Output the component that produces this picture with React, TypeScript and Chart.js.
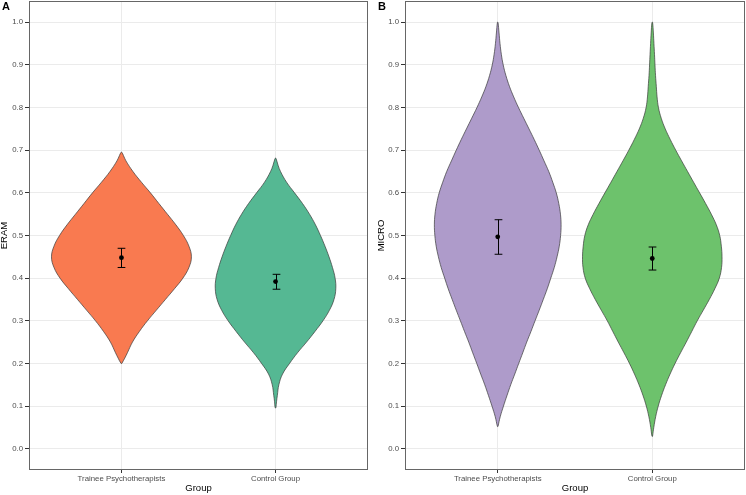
import React, { useEffect, useRef } from "react";
import { Chart, registerables } from "chart.js";

Chart.register(...registerables);

// ---------- data ----------
const groups = ["Trainee Psychotherapists", "Control Group"];
const yTicks = [0, 0.1, 0.2, 0.3, 0.4, 0.5, 0.6, 0.7, 0.8, 0.9, 1.0];

// Panel A — ERAM (relative violin half-width, 1 = widest)
const eramTraineeY = [0.2, 0.2125, 0.225, 0.25, 0.275, 0.3, 0.325, 0.35, 0.375, 0.4, 0.425, 0.45, 0.475, 0.5, 0.525, 0.55, 0.575, 0.6, 0.625, 0.65, 0.675, 0.6875, 0.695];
const eramTraineeDensity = [0.006, 0.048, 0.086, 0.159, 0.259, 0.375, 0.504, 0.634, 0.764, 0.886, 0.973, 1.009, 0.973, 0.893, 0.785, 0.663, 0.54, 0.418, 0.288, 0.166, 0.065, 0.029, 0.006];
const eramControlY = [0.096, 0.11, 0.125, 0.15, 0.175, 0.2, 0.225, 0.25, 0.275, 0.3, 0.325, 0.35, 0.375, 0.4, 0.425, 0.45, 0.475, 0.5, 0.525, 0.55, 0.575, 0.6, 0.625, 0.65, 0.665, 0.681];
const eramControlDensity = [0.006, 0.014, 0.026, 0.048, 0.101, 0.202, 0.317, 0.447, 0.569, 0.684, 0.778, 0.843, 0.869, 0.859, 0.821, 0.771, 0.713, 0.648, 0.576, 0.49, 0.389, 0.274, 0.159, 0.072, 0.036, 0.006];
const eramMean = [0.448, 0.392];
const eramLower = [0.425, 0.374];
const eramUpper = [0.47, 0.409];

// Panel B — MICRO
const microTraineeY = [0.052, 0.075, 0.1, 0.125, 0.15, 0.175, 0.2, 0.225, 0.25, 0.275, 0.3, 0.325, 0.35, 0.375, 0.4, 0.425, 0.45, 0.475, 0.5, 0.525, 0.55, 0.575, 0.6, 0.625, 0.65, 0.675, 0.7, 0.725, 0.75, 0.775, 0.8, 0.825, 0.85, 0.875, 0.9, 0.925, 0.95, 0.975, 1.0];
const microTraineeDensity = [0.004, 0.036, 0.083, 0.134, 0.187, 0.245, 0.302, 0.36, 0.417, 0.478, 0.537, 0.597, 0.655, 0.712, 0.763, 0.813, 0.853, 0.885, 0.904, 0.911, 0.902, 0.878, 0.842, 0.791, 0.734, 0.666, 0.597, 0.525, 0.45, 0.374, 0.299, 0.23, 0.168, 0.118, 0.079, 0.052, 0.033, 0.019, 0.004];
const microControlY = [0.029, 0.05, 0.075, 0.1, 0.125, 0.15, 0.175, 0.2, 0.225, 0.25, 0.275, 0.3, 0.325, 0.35, 0.375, 0.4, 0.425, 0.45, 0.475, 0.5, 0.525, 0.55, 0.575, 0.6, 0.625, 0.65, 0.675, 0.7, 0.725, 0.75, 0.775, 0.8, 0.825, 0.85, 0.875, 0.9, 0.925, 0.95, 0.975, 1.0];
const microControlDensity = [0.004, 0.022, 0.049, 0.086, 0.134, 0.191, 0.256, 0.328, 0.407, 0.489, 0.568, 0.647, 0.734, 0.82, 0.899, 0.964, 0.996, 1.003, 0.993, 0.97, 0.921, 0.849, 0.767, 0.681, 0.594, 0.508, 0.422, 0.338, 0.259, 0.187, 0.129, 0.089, 0.069, 0.058, 0.047, 0.039, 0.032, 0.024, 0.016, 0.004];
const microMean = [0.497, 0.446];
const microLower = [0.456, 0.419];
const microUpper = [0.537, 0.473];

const colorsA = ["#F97A50", "#55B893"];
const colorsB = ["#AE9BCA", "#6DC26C"];

// ---------- helpers ----------
const HALF_WIDTH = 0.45;

function violinPoints(center: number, ys: number[], dens: number[]) {
  const pts: { x: number; y: number }[] = [];
  for (let i = 0; i < ys.length; i++) pts.push({ x: center + dens[i] * HALF_WIDTH, y: ys[i] });
  for (let i = ys.length - 1; i >= 0; i--) pts.push({ x: center - dens[i] * HALF_WIDTH, y: ys[i] });
  pts.push({ x: center + dens[0] * HALF_WIDTH, y: ys[0] });
  return pts;
}

const FONT = "'Liberation Sans', Arial, Helvetica, sans-serif";

type Panel = {
  label: string;
  yTitle: string;
  violins: { y: number[]; d: number[] }[];
  colors: string[];
  mean: number[];
  lower: number[];
  upper: number[];
  padLeft: number;
  padRight: number;
  yWidth: number;
  labelX: number;
};

const panels: Panel[] = [
  {
    label: "A",
    yTitle: "ERAM",
    violins: [
      { y: eramTraineeY, d: eramTraineeDensity },
      { y: eramControlY, d: eramControlDensity },
    ],
    colors: colorsA,
    mean: eramMean,
    lower: eramLower,
    upper: eramUpper,
    padLeft: 0,
    padRight: 5,
    yWidth: 29,
    labelX: 2,
  },
  {
    label: "B",
    yTitle: "MICRO",
    violins: [
      { y: microTraineeY, d: microTraineeDensity },
      { y: microControlY, d: microControlDensity },
    ],
    colors: colorsB,
    mean: microMean,
    lower: microLower,
    upper: microUpper,
    padLeft: 4,
    padRight: 1,
    yWidth: 28,
    labelX: 5,
  },
];

function makeChart(canvas: HTMLCanvasElement, p: Panel) {
  const meanIndex = p.violins.length;
  const panelPlugin = {
    id: "panelDecor",
    beforeDatasetDraw(chart: any, args: any) {
      if (args.index !== meanIndex) return;
      const ctx = chart.ctx;
      const xs = chart.scales.x;
      const ys = chart.scales.y;
      ctx.save();
      ctx.strokeStyle = "#000";
      ctx.lineWidth = 1;
      for (let i = 0; i < p.mean.length; i++) {
        const cx = Math.round(xs.getPixelForValue(i + 1)) + 0.5;
        const yl = ys.getPixelForValue(p.lower[i]);
        const yu = ys.getPixelForValue(p.upper[i]);
        const cap = xs.getPixelForValue(i + 1 + 0.025) - xs.getPixelForValue(i + 1);
        ctx.beginPath();
        ctx.moveTo(cx, yl);
        ctx.lineTo(cx, yu);
        ctx.moveTo(cx - cap, yl);
        ctx.lineTo(cx + cap, yl);
        ctx.moveTo(cx - cap, yu);
        ctx.lineTo(cx + cap, yu);
        ctx.stroke();
      }
      ctx.restore();
    },
    afterDraw(chart: any) {
      const ctx = chart.ctx;
      const a = chart.chartArea;
      ctx.save();
      ctx.strokeStyle = "#666666";
      ctx.lineWidth = 1;
      ctx.strokeRect(Math.round(a.left) + 0.5, Math.round(a.top) + 0.5, Math.round(a.right - a.left) - 1, Math.round(a.bottom - a.top) - 1);
      ctx.fillStyle = "#000";
      ctx.font = `bold 11px ${FONT}`;
      ctx.textBaseline = "alphabetic";
      ctx.textAlign = "left";
      ctx.fillText(p.label, p.labelX, 10);
      ctx.restore();
    },
  };

  const datasets: any[] = p.violins.map((v, i) => ({
    type: "line",
    data: violinPoints(i + 1, v.y, v.d),
    fill: "shape",
    backgroundColor: p.colors[i],
    borderColor: "#3a3a3a",
    borderWidth: 0.7,
    pointRadius: 0,
    tension: 0.4,
    order: 2,
  }));
  datasets.push({
    type: "scatter",
    data: p.mean.map((m, i) => ({ x: i + 1, y: m })),
    backgroundColor: "#000",
    borderColor: "#000",
    borderWidth: 0,
    pointRadius: 2.4,
    order: 0,
  });

  return new Chart(canvas, {
    type: "scatter",
    data: { datasets },
    options: {
      animation: false,
      responsive: false,
      devicePixelRatio: 1,
      events: [],
      layout: { autoPadding: false, padding: { left: p.padLeft, right: p.padRight, top: 1, bottom: 0 } },
      plugins: { legend: { display: false }, tooltip: { enabled: false } },
      scales: {
        x: {
          type: "linear",
          min: 0.4,
          max: 2.6,
          afterBuildTicks: (s: any) => {
            s.ticks = groups.map((_, i) => ({ value: i + 1 }));
          },
          afterFit: (s: any) => {
            s.height = 25;
            s.paddingLeft = 0;
            s.paddingRight = 0;
          },
          ticks: {
            callback: (v: any) => groups[Math.round(Number(v)) - 1],
            autoSkip: false,
            maxRotation: 0,
            minRotation: 0,
            color: "#4d4d4d",
            font: { family: FONT, size: 7.8 },
            padding: 1,
          },
          grid: { color: "#ebebeb", lineWidth: 1, tickColor: "#333333", tickLength: 3, tickWidth: 1 },
          border: { display: false },
          title: {
            display: true,
            text: "Group",
            color: "#000",
            font: { family: FONT, size: 9.5 },
            padding: { top: 0, bottom: 1 },
          },
        },
        y: {
          type: "linear",
          min: -0.05,
          max: 1.05,
          afterBuildTicks: (s: any) => {
            s.ticks = yTicks.map((v) => ({ value: v }));
          },
          afterFit: (s: any) => {
            s.width = p.yWidth;
            s.paddingTop = 0;
            s.paddingBottom = 0;
          },
          ticks: {
            callback: (v: any) => Number(v).toFixed(1),
            color: "#4d4d4d",
            font: { family: FONT, size: 7.8 },
            padding: 2,
          },
          grid: { color: "#ebebeb", lineWidth: 1, tickColor: "#333333", tickLength: 4, tickWidth: 1 },
          border: { display: false },
          title: {
            display: true,
            text: p.yTitle,
            color: "#000",
            font: { family: FONT, size: 9.5, lineHeight: 0.9 },
            padding: { top: 0, bottom: 0 },
          },
        },
      },
    } as any,
    plugins: [panelPlugin],
  } as any);
}

export default function App() {
  const refA = useRef<HTMLCanvasElement>(null);
  const refB = useRef<HTMLCanvasElement>(null);

  useEffect(() => {
    document.body.style.margin = "0";
    const charts: Chart[] = [];
    if (refA.current) charts.push(makeChart(refA.current, panels[0]));
    if (refB.current) charts.push(makeChart(refB.current, panels[1]));
    return () => charts.forEach((c) => c.destroy());
  }, []);

  return (
    <div style={{ position: "absolute", left: 0, top: 0, width: 746, height: 495, display: "flex", background: "#fff" }}>
      <canvas ref={refA} width={373} height={495} style={{ display: "block", width: 373, height: 495 }} />
      <canvas ref={refB} width={373} height={495} style={{ display: "block", width: 373, height: 495 }} />
    </div>
  );
}
